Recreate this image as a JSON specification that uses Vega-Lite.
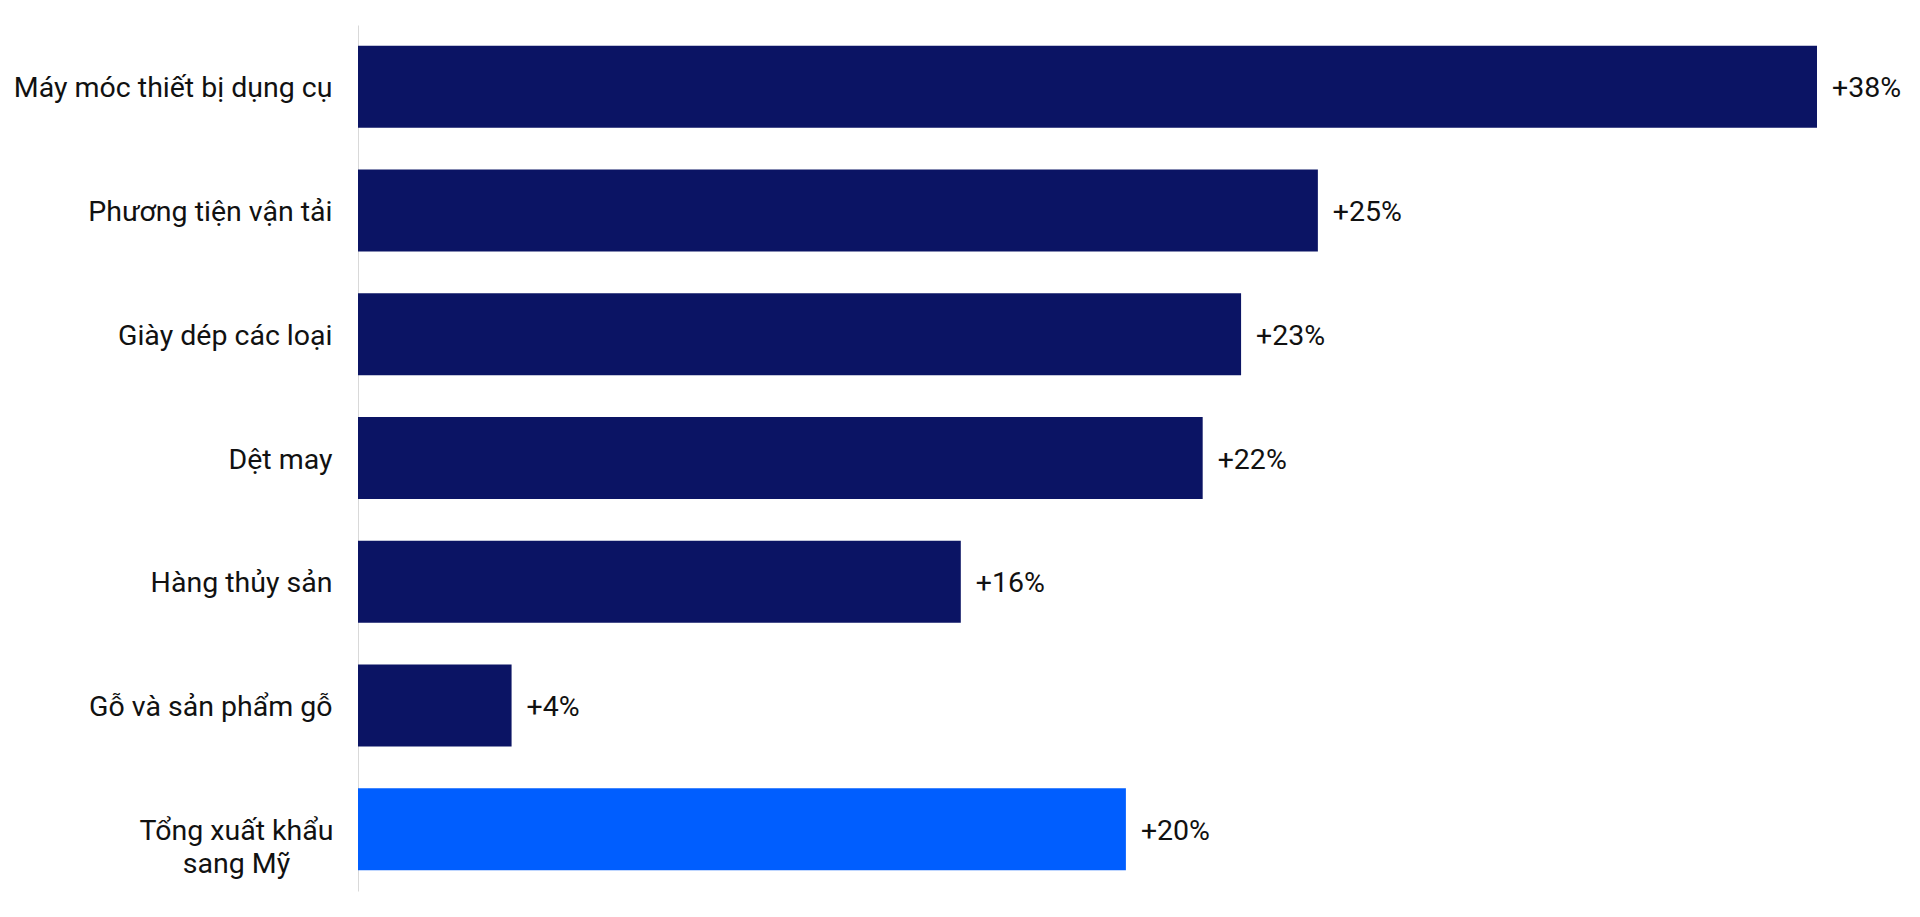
{
  "$schema": "https://vega.github.io/schema/vega-lite/v6.json",
  "autosize": "none",
  "width": 1459,
  "height": 866,
  "padding": {"left": 358, "top": 25, "right": 103, "bottom": 26},
  "background": "white",
  "config": {"view": {"stroke": null}, "font": "Roboto"},
  "data": {
    "values": [
      {"category": "Máy móc thiết bị dụng cụ", "value": 38, "label": "+38%", "group": "item"},
      {"category": "Phương tiện vận tải", "value": 25, "label": "+25%", "group": "item"},
      {"category": "Giày dép các loại", "value": 23, "label": "+23%", "group": "item"},
      {"category": "Dệt may", "value": 22, "label": "+22%", "group": "item"},
      {"category": "Hàng thủy sản", "value": 15.7, "label": "+16%", "group": "item"},
      {"category": "Gỗ và sản phẩm gỗ", "value": 4, "label": "+4%", "group": "item"},
      {"category": "Tổng xuất khẩu sang Mỹ", "value": 20, "label": "+20%", "group": "total"}
    ]
  },
  "encoding": {
    "y": {
      "field": "category",
      "type": "nominal",
      "sort": null,
      "scale": {"paddingInner": 0.337, "paddingOuter": 0.1685},
      "axis": {
        "title": null,
        "ticks": false,
        "domain": true,
        "domainColor": "#d9d9d9",
        "domainWidth": 1,
        "labelFont": "Roboto",
        "labelFontSize": 28.5,
        "labelColor": "#111111",
        "labelLimit": 400,
        "labelLineHeight": 33,
        "labelOffset": 1.5,
        "labelExpr": "datum.value == 'Tổng xuất khẩu sang Mỹ' ? ['Tổng xuất khẩu', 'sang Mỹ'] : datum.label",
        "labelAlign": {"condition": {"test": "datum.value == 'Tổng xuất khẩu sang Mỹ'", "value": "center"}, "value": "right"},
        "labelPadding": {"condition": {"test": "datum.value == 'Tổng xuất khẩu sang Mỹ'", "value": 122}, "value": 26}
      }
    },
    "x": {
      "field": "value",
      "type": "quantitative",
      "scale": {"domain": [0, 38], "nice": false, "zero": true},
      "axis": null
    }
  },
  "layer": [
    {
      "mark": {"type": "bar"},
      "encoding": {
        "color": {
          "field": "group",
          "type": "nominal",
          "scale": {"domain": ["item", "total"], "range": ["#0b1464", "#005eff"]},
          "legend": null
        }
      }
    },
    {
      "mark": {"type": "text", "align": "left", "baseline": "middle", "dx": 15, "dy": 1.5, "font": "Roboto", "fontSize": 28.5, "color": "#111111"},
      "encoding": {"text": {"field": "label"}}
    }
  ]
}
